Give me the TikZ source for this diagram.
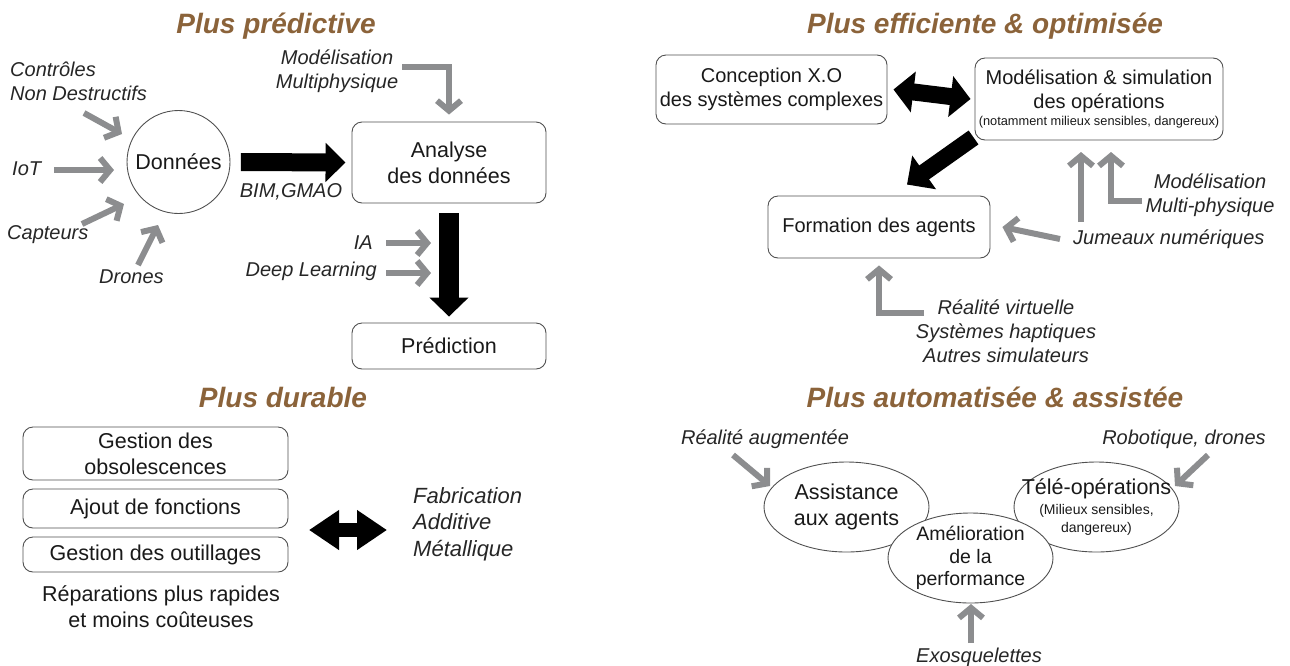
\documentclass[tikz,border=0pt]{standalone}
\usepackage{fontspec}
\setmainfont{Liberation Sans}
\usetikzlibrary{arrows.meta,shapes.geometric}
\definecolor{brownT}{RGB}{139,99,58}
\definecolor{garr}{RGB}{140,141,143}
\definecolor{boxline}{RGB}{80,80,80}
\tikzset{
 title/.style={font=\fontsize{28}{32}\selectfont\bfseries\itshape, text=brownT, inner sep=0pt},
 lbl/.style={font=\fontsize{20}{24}\selectfont\itshape, text=black!85, inner sep=0pt},
 boxtxt/.style={font=\fontsize{21.5}{26}\selectfont, text=black!90},
 rbox/.style={draw=boxline, line width=0.9pt, rounded corners=10pt, align=center, boxtxt, inner sep=0pt},
 ell/.style={ellipse, draw=boxline, line width=0.9pt, align=center, boxtxt, inner xsep=-30pt, inner ysep=-20pt, minimum width=165pt, minimum height=90pt},
 garrow/.style={draw=garr, line width=6pt, -{Straight Barb[length=10pt 0 0,width=24pt 0 0]}},
 barrow/.style={draw=black, line width=18pt, -{Triangle[length=20pt 0 0,width=38pt 0 0]}},
 dbarrow/.style={draw=black, line width=17pt, {Triangle[length=20pt 0 0,width=40pt 0 0]}-{Triangle[length=20pt 0 0,width=40pt 0 0]}},
}
\begin{document}
\begin{tikzpicture}[x=1pt,y=-1pt]
\useasboundingbox (0,0) rectangle (1290,665);

% ---------------- Plus predictive ----------------
\node[title] (t1) at (276,26) {Plus prédictive};
\node[lbl, anchor=west, align=left] (cnd) at (10,81) {Contrôles\\Non Destructifs};
\node[lbl, anchor=west] (iot) at (12,169) {IoT};
\node[lbl, anchor=west] (capt) at (7,235) {Capteurs};
\node[lbl, anchor=west] (dron) at (99,277) {Drones};
\node[circle, draw=boxline, line width=0.9pt, boxtxt, minimum size=103pt, inner sep=0pt] (donnees) at (178.5,162) {Données};

\coordinate (a1s) at (84,113);  \coordinate (a1e) at (122,134);
\coordinate (a2s) at (54,170);  \coordinate (a2e) at (114,170);
\coordinate (a3s) at (82,224);  \coordinate (a3e) at (124,204);
\coordinate (a4s) at (138,265); \coordinate (a4e) at (158,225);
\draw[garrow] (a1s) -- (a1e);
\draw[garrow] (a2s) -- (a2e);
\draw[garrow] (a3s) -- (a3e);
\draw[garrow] (a4s) -- (a4e);

\node[rbox, minimum width=194pt, minimum height=81pt] (analyse) at (449,162.5) {Analyse\\des données};
\node[rbox, minimum width=194pt, minimum height=46pt] (pred) at (449,346) {Prédiction};
\node[lbl, align=center] (modmp) at (337,71) {Modélisation\\Multiphysique};
\node[lbl] (bim) at (291,192) {BIM,GMAO};
\node[lbl, anchor=east] (ia) at (373,243) {IA};
\node[lbl, anchor=east] (deep) at (377,271) {Deep Learning};

\draw[barrow] ([xshift=10.5pt]donnees.east) -- ([xshift=-6pt]analyse.west);
\draw[barrow, line width=20pt, -{Triangle[length=19pt 0 0,width=38pt 0 0]}] ([yshift=-10pt]analyse.south) -- ([yshift=6pt]pred.north);
\coordinate (m1) at (402,67);
\draw[garrow] (m1) -| ([yshift=7pt]analyse.north);
\coordinate (ia2) at (431,243);
\coordinate (dl2) at (431,273);
\draw[garrow] ([xshift=13pt]ia.east) -- (ia2);
\draw[garrow] ([xshift=9pt,yshift=-2pt]deep.east) -- (dl2);

% ---------------- Plus efficiente ----------------
\node[title] (t2) at (985,26) {Plus efficiente \& optimisée};
\node[rbox, minimum width=231pt, minimum height=69pt, font=\fontsize{20}{24}\selectfont] (concep) at (771.5,89.5) {Conception X.O\\des systèmes complexes};
\node[rbox, minimum width=248pt, minimum height=82pt, font=\fontsize{20}{24}\selectfont] (modsim) at (1099,99) {Modélisation \& simulation\\des opérations\\[-7pt]{\fontsize{12.8}{15}\selectfont (notamment milieux sensibles, dangereux)}};
\node[rbox, minimum width=222pt, minimum height=62pt, font=\fontsize{20}{24}\selectfont] (form) at (879,227) {Formation des agents};
\draw[dbarrow] ([xshift=6pt]concep.east) -- ([xshift=-4pt]modsim.west);
\draw[barrow, line width=17pt, -{Triangle[length=21pt 0 0,width=40pt 0 0]}] ([xshift=-1pt,yshift=3pt]modsim.south west) -- ([xshift=28pt,yshift=11pt]form.north);

\node[lbl, anchor=west] (jum) at (1073,239) {Jumeaux numériques};
\node[lbl, align=center] (modmp2) at (1210,195) {Modélisation\\Multi-physique};
\node[lbl, align=center] (rv) at (1006,331) {Réalité virtuelle\\Systèmes haptiques\\Autres simulateurs};
\draw[garrow] ([xshift=-13pt]jum.west) -- ([xshift=12pt]form.east);
\coordinate (v1) at (1081,222); \coordinate (v1t) at (1081,152);
\coordinate (v2) at (1142,201); \coordinate (v2t) at (1111,152);
\draw[garrow] (v1) -- (v1t);
\draw[garrow] (v2) -| (v2t);
\coordinate (b1) at (924,313);
\draw[garrow] (b1) -| ([yshift=-7pt]form.south);

% ---------------- Plus durable ----------------
\node[title] (t3) at (283,397) {Plus durable};
\node[rbox, minimum width=265pt, minimum height=53pt] (obs) at (155.5,453.5) {Gestion des\\obsolescences};
\node[rbox, minimum width=265pt, minimum height=39pt] (ajout) at (155.5,508.5) {Ajout de fonctions};
\node[rbox, minimum width=265pt, minimum height=35pt] (outil) at (155.5,554.5) {Gestion des outillages};
\node[boxtxt, align=center, inner sep=0pt] (rep) at (161,607) {Réparations plus rapides\\et moins coûteuses};
\node[lbl, align=left, anchor=west, font=\fontsize{22}{26.5}\selectfont\itshape] (fab) at (413,524) {Fabrication\\Additive\\Métallique};
\coordinate (da1) at (309,530); \coordinate (da2) at (387,530);
\draw[dbarrow, line width=14pt, {Triangle[length=30pt 0 0,width=38pt 0 0]}-{Triangle[length=30pt 0 0,width=38pt 0 0]}] (da1) -- (da2);

% ---------------- Plus automatisee ----------------
\node[title] (t4) at (995,397) {Plus automatisée \& assistée};
\node[ell] (assist) at (846.5,507) {Assistance\\aux agents};
\node[ell] (tele) at (1096.5,507) {Télé-opérations\\[-6.5pt]{\fontsize{14}{17}\selectfont (Milieux sensibles,}\\[-8pt]{\fontsize{14}{17}\selectfont dangereux)}};
\node[ell, fill=white, font=\fontsize{19.5}{22.5}\selectfont] (amel) at (970.5,558) {Amélioration\\de la\\performance};
\node[lbl] (ra) at (765,439) {Réalité augmentée};
\node[lbl] (rob) at (1184,439) {Robotique, drones};
\node[lbl] (exo) at (979,657) {Exosquelettes};
\coordinate (r1) at (733,455); \coordinate (r1e) at (770,486);
\coordinate (r2) at (1208,455); \coordinate (r2e) at (1175,486);
\coordinate (e1) at (971,643); \coordinate (e1e) at (971,604);
\draw[garrow] (r1) -- (r1e);
\draw[garrow] (r2) -- (r2e);
\draw[garrow] (e1) -- (e1e);
\end{tikzpicture}
\end{document}
